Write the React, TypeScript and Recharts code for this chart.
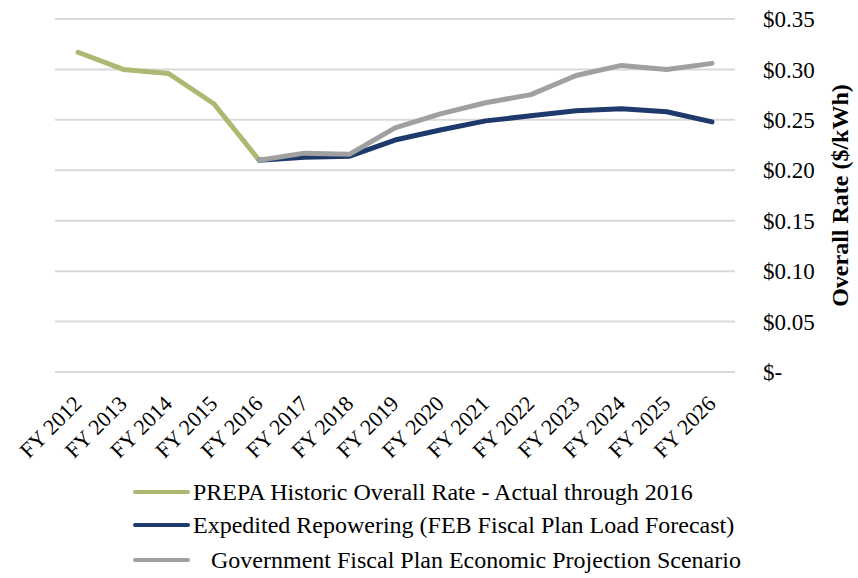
import { LineChart, Line, XAxis, YAxis, CartesianGrid, Legend } from 'recharts';

const years = ['FY 2012', 'FY 2013', 'FY 2014', 'FY 2015', 'FY 2016', 'FY 2017', 'FY 2018', 'FY 2019', 'FY 2020', 'FY 2021', 'FY 2022', 'FY 2023', 'FY 2024', 'FY 2025', 'FY 2026'];
const historic = [0.317, 0.300, 0.296, 0.266, 0.210, null, null, null, null, null, null, null, null, null, null];
const repowering = [null, null, null, null, 0.210, 0.213, 0.214, 0.230, 0.240, 0.249, 0.254, 0.259, 0.261, 0.258, 0.248];
const government = [null, null, null, null, 0.210, 0.217, 0.216, 0.242, 0.256, 0.267, 0.275, 0.294, 0.304, 0.300, 0.306];
const yTicks = [0, 0.05, 0.1, 0.15, 0.2, 0.25, 0.3, 0.35];

const seriesNames = [
  'PREPA Historic Overall Rate - Actual through 2016',
  'Expedited Repowering (FEB Fiscal Plan Load Forecast)',
  '   Government Fiscal Plan Economic Projection Scenario',
];
const colors = ['#afb872', '#1e3a6d', '#a0a0a0'];

const data = years.map((y, i) => ({
  year: y,
  historic: historic[i],
  repowering: repowering[i],
  government: government[i],
}));

const FONT = '"Liberation Serif", "Times New Roman", serif';

const fmt = (v: number) => (v === 0 ? '$-' : `$${v.toFixed(2)}`);

const XTick = ({ x, y, payload }: any) => (
  <text
    x={x + 5}
    y={y + 25}
    textAnchor="end"
    transform={`rotate(-45, ${x + 5}, ${y + 25})`}
    fontFamily={FONT}
    fontSize={22}
    fill="#000"
  >
    {payload.value}
  </text>
);

const LegendBox = () => (
  <div style={{ fontFamily: FONT, fontSize: 24, color: '#000', lineHeight: '24px' }}>
    {seriesNames.map((n, i) => (
      <div
        key={n}
        style={{ display: 'flex', alignItems: 'center', height: i === 2 ? 38 : 33, whiteSpace: 'pre' }}
      >
        <span style={{ display: 'inline-block', width: 57, height: 4, borderRadius: 2, background: colors[i], marginRight: 3 }} />
        <span>{n}</span>
      </div>
    ))}
  </div>
);

export default function App() {
  return (
    <div style={{ position: 'absolute', left: 0, top: 0, width: 858, height: 578, background: '#fff' }}>
      <LineChart width={858} height={578} data={data} margin={{ top: 19, right: 16, left: 55, bottom: 0 }}>
        <CartesianGrid vertical={false} stroke="#d9d9d9" strokeWidth={2} />
        <XAxis
          dataKey="year"
          axisLine={false}
          tickLine={false}
          interval={0}
          height={102}
          padding={{ left: 23, right: 23 }}
          tick={<XTick />}
        />
        <YAxis
          orientation="right"
          domain={[0, 0.35]}
          ticks={yTicks}
          tickFormatter={fmt}
          axisLine={false}
          tickLine={false}
          tickMargin={22}
          width={107}
          tick={{ fontFamily: FONT, fontSize: 23, fill: '#000', textAnchor: 'start' }}
          label={{
            value: 'Overall Rate ($/kWh)',
            angle: -90,
            position: 'insideRight',
            offset: 3,
            style: { fontFamily: FONT, fontSize: 24, fontWeight: 'bold', fill: '#000', textAnchor: 'middle' },
          }}
        />
        <Legend
          verticalAlign="bottom"
          content={<LegendBox />}
          wrapperStyle={{ left: 133, top: 475, width: 720, bottom: 'auto' }}
        />
        <Line type="linear" dataKey="historic" stroke={colors[0]} strokeWidth={5} strokeLinecap="round" strokeLinejoin="round" dot={false} isAnimationActive={false} />
        <Line type="linear" dataKey="repowering" stroke={colors[1]} strokeWidth={5} strokeLinecap="round" strokeLinejoin="round" dot={false} isAnimationActive={false} />
        <Line type="linear" dataKey="government" stroke={colors[2]} strokeWidth={5} strokeLinecap="round" strokeLinejoin="round" dot={false} isAnimationActive={false} />
      </LineChart>
    </div>
  );
}
